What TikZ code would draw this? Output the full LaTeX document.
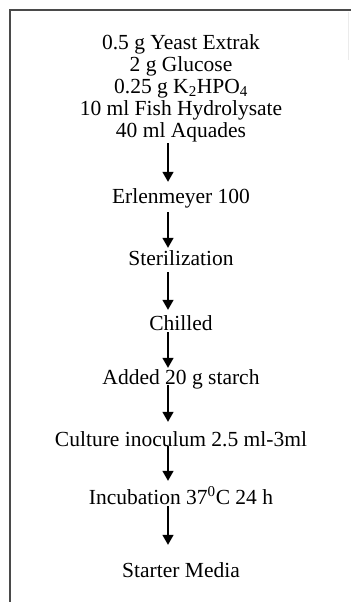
\documentclass[tikz,border=0pt]{standalone}
\usepackage{fontspec}
\setmainfont{Liberation Serif}
\usetikzlibrary{arrows.meta}
\definecolor{framegray}{HTML}{4A4A4A}
\tikzset{
  lbl/.style={inner sep=0pt, anchor=base, text height=14pt, text depth=4pt, font=\fontsize{21.5}{22}\selectfont},
  arr/.style={line width=1.5pt, -{Triangle[width=11pt,length=10pt]}},
  frameline/.style={line width=2pt, draw=framegray}
}
\begin{document}
\begin{tikzpicture}[x=1pt,y=-1pt]
\useasboundingbox (0,0) rectangle (351,602);
\fill[white] (0,0) rectangle (351,602);
\draw[frameline] (10,602) -- (10,10) -- (351,10);
\draw[line width=0.8pt, draw=black!8] (348.5,12) -- (348.5,60);
\coordinate (ax) at (168,0);
\node[inner sep=0pt, anchor=base, align=center, font=\fontsize{21.5}{21.8}\selectfont] (top) at (181,137)
  {0.5 g Yeast Extrak\\2 g Glucose\\0.25 g K\textsubscript{2}HPO\textsubscript{4}\\10 ml Fish Hydrolysate\\40 ml Aquades};
\node[lbl] (erl) at (181,203) {Erlenmeyer 100};
\node[lbl] (ster) at (181,265) {Sterilization};
\node[lbl] (chil) at (181,330) {Chilled};
\node[lbl] (add) at (181,384) {Added 20 g starch};
\node[lbl] (cult) at (181,446) {Culture inoculum 2.5 ml-3ml};
\node[lbl] (inc) at (181,504) {Incubation 37\textsuperscript{0}C 24 h};
\node[lbl] (start) at (181,577) {Starter Media};
\draw[arr, shorten <=1.5pt, shorten >=7pt] (top.south -| ax) -- (erl.north -| ax);
\draw[arr, shorten <=5pt, shorten >=3pt] (erl.south -| ax) -- (ster.north -| ax);
\draw[arr, shorten <=3pt, shorten >=6pt] (ster.south -| ax) -- (chil.north -| ax);
\draw[arr, shorten <=-2pt, shorten >=2pt] (chil.south -| ax) -- (add.north -| ax);
\draw[arr, shorten <=-3pt, shorten >=10pt] (add.south -| ax) -- (cult.north -| ax);
\draw[arr, shorten <=-4pt, shorten >=9pt] (cult.south -| ax) -- (inc.north -| ax);
\draw[arr, shorten <=-2pt, shorten >=18pt] (inc.south -| ax) -- (start.north -| ax);
\end{tikzpicture}
\end{document}
